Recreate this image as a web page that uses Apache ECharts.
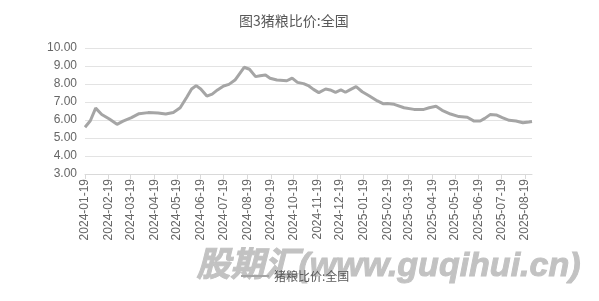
<!DOCTYPE html>
<html>
<head>
<meta charset="utf-8">
<script src="https://cdn.jsdelivr.net/npm/echarts@6/dist/echarts.min.js"></script>
<style>html,body{margin:0;padding:0;background:#fff;}#c{width:599px;height:301px;}</style>
</head>
<body>
<div id="c"></div>
<script>
var titleText = '图3猪粮比价:全国';
var seriesName = '猪粮比价:全国';
var watermarkText = '股期汇(www.guqihui.cn)';
var dates = [
 '2024-01-19','2024-01-26','2024-02-02','2024-02-10','2024-02-20','2024-03-01','2024-03-09','2024-03-20','2024-03-30',
 '2024-04-11','2024-04-24','2024-05-04','2024-05-14','2024-05-23','2024-06-01','2024-06-07','2024-06-13','2024-06-19',
 '2024-06-27','2024-07-04','2024-07-11','2024-07-19','2024-07-26','2024-08-03','2024-08-15','2024-08-22','2024-08-30',
 '2024-09-05','2024-09-12','2024-09-18','2024-09-27','2024-10-10','2024-10-17','2024-10-24','2024-11-01','2024-11-08',
 '2024-11-14','2024-11-21','2024-11-30','2024-12-06','2024-12-13','2024-12-20','2024-12-26','2025-01-02','2025-01-09',
 '2025-01-17','2025-01-26','2025-02-06','2025-02-14','2025-02-19','2025-02-28','2025-03-13','2025-03-26','2025-04-08',
 '2025-04-15','2025-04-24','2025-05-02','2025-05-13','2025-05-24','2025-06-04','2025-06-13','2025-06-21','2025-06-27',
 '2025-07-04','2025-07-12','2025-07-20','2025-07-29','2025-08-07','2025-08-16','2025-08-24','2025-08-28'
];
var values = [
 5.60,5.96,6.66,6.31,6.06,5.76,5.94,6.13,6.35,
 6.41,6.39,6.33,6.42,6.68,7.29,7.72,7.91,7.72,
 7.33,7.44,7.67,7.89,7.98,8.22,8.93,8.82,8.41,
 8.46,8.50,8.32,8.22,8.18,8.33,8.09,8.02,7.89,
 7.70,7.52,7.72,7.67,7.54,7.67,7.54,7.70,7.85,
 7.57,7.35,7.06,6.90,6.92,6.87,6.68,6.59,6.59,
 6.68,6.76,6.54,6.33,6.19,6.15,5.94,5.94,6.09,
 6.30,6.28,6.13,5.98,5.94,5.85,5.89,5.92
];
var tickDates = [
 '2024-01-19','2024-02-19','2024-03-19','2024-04-19','2024-05-19','2024-06-19','2024-07-19','2024-08-19','2024-09-19','2024-10-19',
 '2024-11-19','2024-12-19','2025-01-19','2025-02-19','2025-03-19','2025-04-19','2025-05-19','2025-06-19','2025-07-19','2025-08-19'
];
var axisStart = '2024-01-19';
var axisEnd = '2025-08-28';

function ts(s){var p=s.split('-');return Date.UTC(+p[0],+p[1]-1,+p[2]);}
function fmt(v){var d=new Date(v);function z(n){return (n<10?'0':'')+n;}return d.getUTCFullYear()+'-'+z(d.getUTCMonth()+1)+'-'+z(d.getUTCDate());}
var tickTs = tickDates.map(ts);
var data = dates.map(function(d,i){return [ts(d), values[i]];});

var chart = echarts.init(document.getElementById('c'));
chart.setOption({
  animation:false,
  backgroundColor:'#fff',
  title:{text:titleText,left:234,top:9,textStyle:{fontSize:14,fontWeight:'normal',color:'#595959',fontFamily:'Noto Sans CJK SC'}},
  grid:{left:85,right:67,top:48,bottom:127},
  xAxis:{type:'value',min:ts(axisStart),max:ts(axisEnd),scale:true,
    axisLine:{show:true,onZero:false,lineStyle:{color:'#d9d9d9'}},
    axisTick:{show:true,customValues:tickTs,length:5,lineStyle:{color:'#d9d9d9'}},
    axisLabel:{customValues:tickTs,rotate:90,margin:5,fontSize:12,color:'#666',fontFamily:'Liberation Sans',formatter:function(v){return fmt(v);}},
    splitLine:{show:false}},
  yAxis:{type:'value',min:3,max:10,interval:1,
    axisLine:{show:false},axisTick:{show:false},
    axisLabel:{margin:8,fontSize:12,color:'#666',fontFamily:'Liberation Sans',formatter:function(v){return v.toFixed(2);}},
    splitLine:{lineStyle:{color:'#e3e3e3'}}},
  legend:{data:[seriesName],left:236,top:265,itemWidth:28,itemHeight:2,icon:'rect',itemGap:4,
    textStyle:{fontSize:12,color:'#595959',fontFamily:'Noto Sans CJK SC'},z:5},
  graphic:[{type:'text',left:196,top:249,z:-1,silent:true,
    style:{text:watermarkText,fill:'#c2c2c2',stroke:'#c2c2c2',lineWidth:1,font:'italic bold 34px "Liberation Sans", "Noto Sans CJK SC"'}}],
  series:[{name:seriesName,type:'line',data:data,showSymbol:false,symbol:'none',
    lineStyle:{color:'#a5a5a5',width:3},itemStyle:{color:'#a5a5a5'}}]
});
</script>
</body>
</html>
